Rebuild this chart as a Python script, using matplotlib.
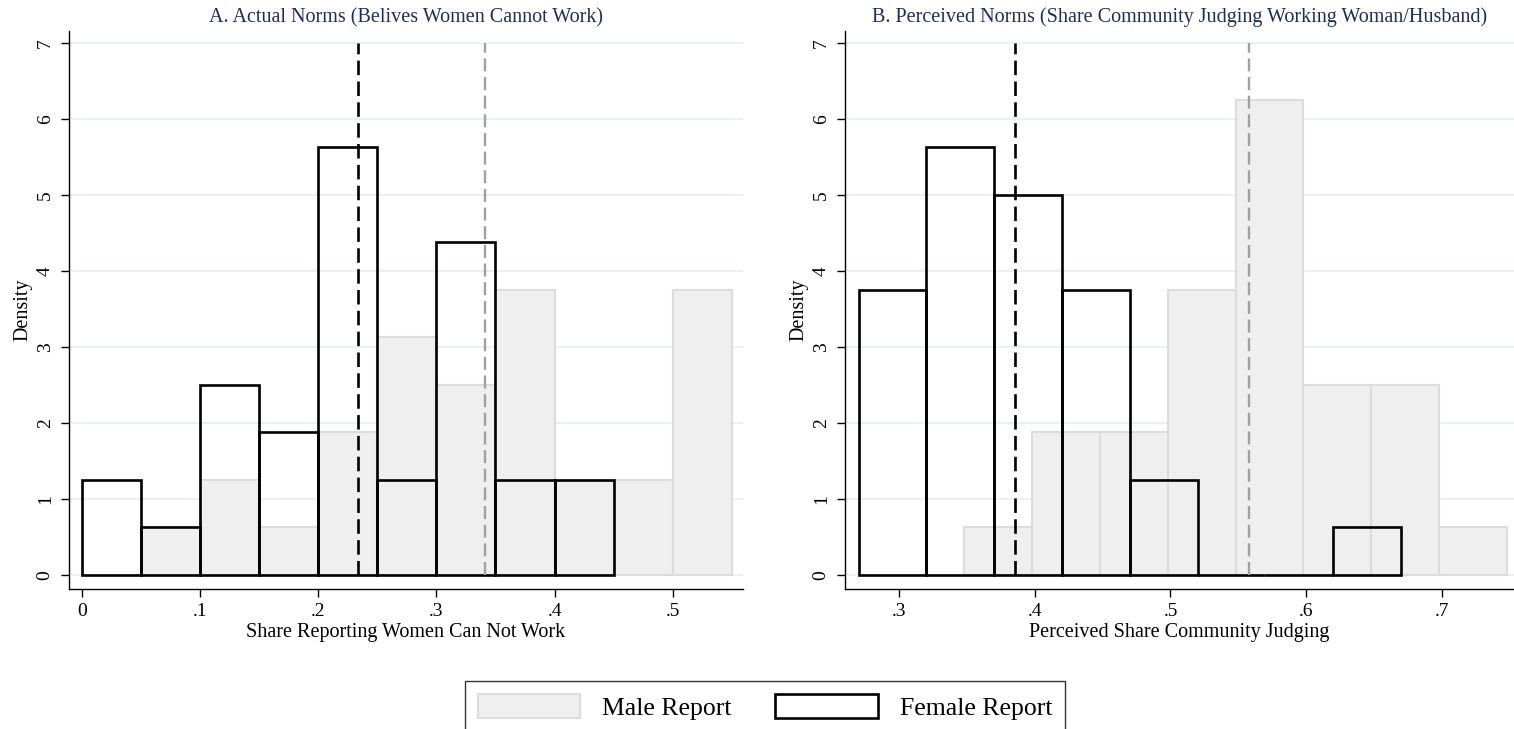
import matplotlib
matplotlib.use("Agg")
import matplotlib.pyplot as plt
from matplotlib.patches import Patch

plt.rcParams['font.family'] = ['Liberation Serif', 'DejaVu Serif']

# Panel A: share reporting women can not work (histogram bins, width .05)
a_female_bins = [0.00, 0.05, 0.10, 0.15, 0.20, 0.25, 0.30, 0.35, 0.40]
a_female_density = [1.25, 0.625, 2.5, 1.875, 5.625, 1.25, 4.375, 1.25, 1.25]
a_male_bins = [0.05, 0.10, 0.15, 0.20, 0.25, 0.30, 0.35, 0.40, 0.45, 0.50]
a_male_density = [0.625, 1.25, 0.625, 1.875, 3.125, 2.5, 3.75, 1.25, 1.25, 3.75]
a_female_mean = 0.234
a_male_mean = 0.341

# Panel B: perceived share of community judging
b_female_bins = [0.27, 0.32, 0.37, 0.42, 0.47, 0.52, 0.57, 0.62]
b_female_density = [3.75, 5.625, 5.0, 3.75, 1.25, 0.0, 0.0, 0.625]
b_male_bins = [0.348, 0.398, 0.448, 0.498, 0.548, 0.598, 0.648, 0.698]
b_male_density = [0.625, 1.875, 1.875, 3.75, 6.25, 2.5, 2.5, 0.625]
b_female_mean = 0.385
b_male_mean = 0.558

bin_width = 0.05
y_ticks = [0, 1, 2, 3, 4, 5, 6, 7]
a_xticks = [0, 0.1, 0.2, 0.3, 0.4, 0.5]
a_xlabels = ['0', '.1', '.2', '.3', '.4', '.5']
b_xticks = [0.3, 0.4, 0.5, 0.6, 0.7]
b_xlabels = ['.3', '.4', '.5', '.6', '.7']

title_col = '#1f2d5c'
grid_col = '#e8f0f2'
male_fill = '#efefef'
male_edge = '#dcdcdc'

W, H = 1514, 729
fig = plt.figure(figsize=(W / 100, H / 100), dpi=100)


def panel(rect, xlim, male_bins, male_dens, fem_bins, fem_dens, m_mean, f_mean,
          xticks, xlabels, title, xlabel):
    l, r, t, b = rect
    ax = fig.add_axes([l / W, 1 - b / H, (r - l) / W, (b - t) / H])
    for y in y_ticks:
        ax.axhline(y, color=grid_col, lw=1.3, zorder=0)
    ax.bar(male_bins, male_dens, width=bin_width, align='edge', color=male_fill,
           edgecolor=male_edge, lw=1.5, zorder=1)
    ax.bar(fem_bins, fem_dens, width=bin_width, align='edge', fill=False,
           edgecolor='black', lw=1.9, zorder=2)
    ax.vlines(f_mean, 0, 7, colors='black', lw=1.9, linestyles=(0, (5.5, 2.4)), zorder=3)
    ax.vlines(m_mean, 0, 7, colors='#a0a0a0', lw=1.7, linestyles=(0, (5.5, 2.4)), zorder=3)
    ax.set_xlim(*xlim)
    ax.set_ylim(-0.184, 7.16)
    ax.set_yticks(y_ticks)
    ax.set_yticklabels([str(v) for v in y_ticks], rotation=90, va='center')
    ax.set_xticks(xticks)
    ax.set_xticklabels(xlabels)
    ax.tick_params(axis='both', length=6, width=1, labelsize=14, direction='out')
    ax.tick_params(axis='y', pad=5)
    ax.tick_params(axis='x', pad=4)
    for s in ['top', 'right']:
        ax.spines[s].set_visible(False)
    for s in ['left', 'bottom']:
        ax.spines[s].set_linewidth(1.0)
    ax.set_title(title, fontsize=14.5, color=title_col, pad=6)
    ax.set_xlabel(xlabel, fontsize=14.5, labelpad=2)
    ax.set_ylabel('Density', fontsize=14.5, labelpad=3)
    return ax


panel((69, 742.7, 30.7, 589), (-0.0107, 0.5592),
      a_male_bins, a_male_density, a_female_bins, a_female_density,
      a_male_mean, a_female_mean, a_xticks, a_xlabels,
      'A. Actual Norms (Belives Women Cannot Work)',
      'Share Reporting Women Can Not Work')

panel((845, 1514, 30.7, 589), (0.26, 0.7533),
      b_male_bins, b_male_density, b_female_bins, b_female_density,
      b_male_mean, b_female_mean, b_xticks, b_xlabels,
      'B. Perceived Norms (Share Community Judging Working Woman/Husband)',
      'Perceived Share Community Judging')

handles = [Patch(facecolor=male_fill, edgecolor=male_edge, lw=1.5),
           Patch(facecolor='white', edgecolor='black', lw=1.9)]
leg = fig.legend(handles, ['Male Report', 'Female Report'], ncol=2,
                 loc='upper center', bbox_to_anchor=(765 / W, 1 - 681 / H),
                 fontsize=18.5, frameon=True, fancybox=False, edgecolor='black',
                 handlelength=4.0, handleheight=1.05, columnspacing=1.7,
                 handletextpad=0.85, borderpad=0.5, borderaxespad=0)
leg.get_frame().set_linewidth(1.0)

fig.savefig('out.png', dpi=100)
